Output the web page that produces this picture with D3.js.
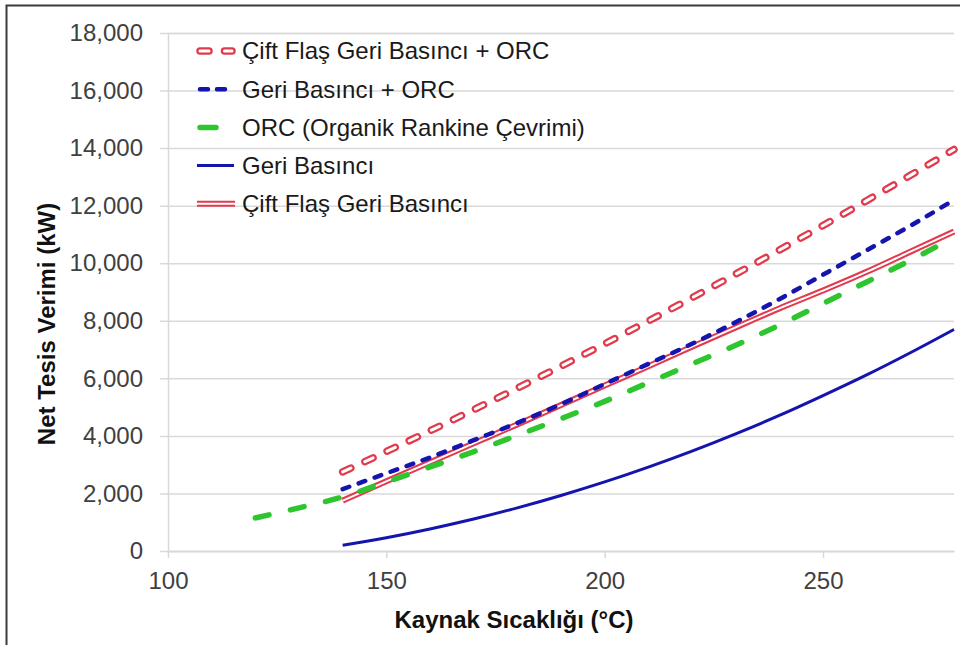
<!DOCTYPE html>
<html lang="tr">
<head>
<meta charset="utf-8">
<title>Net Tesis Verimi</title>
<script src="https://cdn.jsdelivr.net/npm/d3@7"></script>
<style>
  html, body { margin: 0; padding: 0; background: #fff; }
  #chart { width: 960px; height: 645px; }
  text { font-family: "Liberation Sans", Arial, sans-serif; }
</style>
</head>
<body>
<div id="chart"></div>
<script>
// Source temperatures (°C)
const temps = [140, 150, 160, 170, 180, 190, 200, 210, 220, 230, 240, 250, 260, 270, 280];
const orcTemps = [120, 130, 140, 150, 160, 170, 180, 190, 200, 210, 220, 230, 240, 250, 260, 270, 280];

// Net plant output (kW)
const ciftFlasOrc = [2750, 3455, 4175, 4909, 5658, 6422, 7200, 7992, 8800, 9622, 10458, 11309, 12174, 13054, 13950];
const geriBasinciOrc = [2150, 2700, 3250, 3850, 4450, 5100, 5800, 6500, 7200, 7950, 8750, 9600, 10450, 11300, 12200];
const orc = [1150, 1500, 1880, 2400, 2920, 3450, 4020, 4600, 5200, 5850, 6500, 7150, 7850, 8600, 9350, 10100, 10900];
const geriBasinci = [200, 460, 765, 1110, 1500, 1930, 2400, 2915, 3470, 4070, 4710, 5400, 6120, 6890, 7700];
const ciftFlas = [1750, 2420, 3080, 3740, 4400, 5070, 5750, 6420, 7100, 7770, 8430, 9050, 9700, 10400, 11100];

const xTicks = [100, 150, 200, 250];
const yTicks = [0, 2000, 4000, 6000, 8000, 10000, 12000, 14000, 16000, 18000];

const legendLabels = [
  "Çift Flaş Geri Basıncı + ORC",
  "Geri Basıncı + ORC",
  "ORC (Organik Rankine Çevrimi)",
  "Geri Basıncı",
  "Çift Flaş Geri Basıncı"
];

const RED = "#e23a4c";
const BLUE = "#1414ae";
const GREEN = "#2fc52f";

const width = 960;
const height = 645;
const plot = { left: 168, right: 954, top: 33, bottom: 551 };

const svg = d3.select("#chart")
  .append("svg")
  .attr("width", width)
  .attr("height", height);

// Outer frame (only left and top edges are visible in the crop)
svg.append("path")
  .attr("d", `M6.5,${height} L6.5,5.5 L${width},5.5`)
  .attr("fill", "none")
  .attr("stroke", "#3a3a3a")
  .attr("stroke-width", 2);

const x = d3.scaleLinear().domain([100, 280]).range([plot.left, plot.right]);
const y = d3.scaleLinear().domain([0, 18000]).range([plot.bottom, plot.top]);

// Horizontal gridlines + y tick labels
const yAxis = svg.append("g")
  .attr("transform", `translate(${plot.left},0)`)
  .call(
    d3.axisLeft(y)
      .tickValues(yTicks)
      .tickSize(-(plot.right - plot.left))
      .tickPadding(25)
      .tickFormat(d3.format(","))
  );
yAxis.select(".domain").attr("stroke", "#d9d9d9").attr("stroke-width", 1.5);
yAxis.selectAll(".tick line")
  .attr("x1", -8)
  .attr("stroke", "#d9d9d9")
  .attr("stroke-width", 1.5);
yAxis.selectAll("text")
  .attr("fill", "#404040")
  .style("font-size", "24px");

// x axis along the bottom
const xAxis = svg.append("g")
  .attr("transform", `translate(0,${plot.bottom})`)
  .call(
    d3.axisBottom(x)
      .tickValues(xTicks)
      .tickSize(7)
      .tickPadding(14)
      .tickSizeOuter(0)
  );
xAxis.select(".domain").attr("stroke", "#d9d9d9").attr("stroke-width", 1.5);
xAxis.selectAll(".tick line").attr("stroke", "#d9d9d9").attr("stroke-width", 1.5);
xAxis.selectAll("text")
  .attr("fill", "#404040")
  .style("font-size", "24px");

// Axis titles
svg.append("text")
  .attr("x", 514)
  .attr("y", 628)
  .attr("text-anchor", "middle")
  .style("font-size", "24px")
  .style("font-weight", "bold")
  .attr("fill", "#111")
  .text("Kaynak Sıcaklığı (°C)");

svg.append("text")
  .attr("transform", "translate(55,324) rotate(-90)")
  .attr("text-anchor", "middle")
  .style("font-size", "24px")
  .style("font-weight", "bold")
  .attr("fill", "#111")
  .text("Net Tesis Verimi (kW)");

const line = d3.line()
  .x((d) => x(d[0]))
  .y((d) => y(d[1]))
  .curve(d3.curveMonotoneX);

const zip = (xs, ys) => xs.map((t, i) => [t, ys[i]]);

// Series styles: double lines get a red stroke with a thin white core
const series = [
  { data: zip(temps, ciftFlas), color: RED, width: 6, dash: null, core: 2 },
  { data: zip(temps, geriBasinci), color: BLUE, width: 3, dash: null },
  { data: zip(orcTemps, orc), color: GREEN, width: 5.5, dash: "14,22" },
  { data: zip(temps, geriBasinciOrc), color: BLUE, width: 4.5, dash: "7,10" },
  { data: zip(temps, ciftFlasOrc), color: RED, width: 7.5, dash: "9,15.5", core: 3 }
];

const lines = svg.append("g").attr("class", "series");

series.forEach((s) => {
  lines.append("path")
    .datum(s.data)
    .attr("d", line)
    .attr("fill", "none")
    .attr("stroke", s.color)
    .attr("stroke-width", s.width)
    .attr("stroke-linecap", s.dash ? "round" : "butt")
    .attr("stroke-dasharray", s.dash);
  if (s.core) {
    lines.append("path")
      .datum(s.data)
      .attr("d", line)
      .attr("fill", "none")
      .attr("stroke", "#fff")
      .attr("stroke-width", s.core)
      .attr("stroke-linecap", s.dash ? "round" : "butt")
      .attr("stroke-dasharray", s.dash);
  }
});

// Legend
const legendItems = [
  { label: legendLabels[0], color: RED, width: 7.5, dash: "9,15.5", core: 3, x2: 232 },
  { label: legendLabels[1], color: BLUE, width: 4.5, dash: "8,9", x2: 226 },
  { label: legendLabels[2], color: GREEN, width: 5.5, dash: "16,30", x2: 219 },
  { label: legendLabels[3], color: BLUE, width: 3, dash: null, x2: 234 },
  { label: legendLabels[4], color: RED, width: 6, dash: null, core: 2, x2: 235 }
];

const legend = svg.append("g").attr("class", "legend");

legend.selectAll(".legend-item")
  .data(legendItems)
  .enter()
  .append("g")
  .attr("class", "legend-item")
  .attr("transform", (d, i) => `translate(0, ${51 + i * 38.2})`)
  .each(function (d) {
    const item = d3.select(this);
    const x1 = d.dash ? 200 : 197;
    item.append("line")
      .attr("x1", x1)
      .attr("x2", d.x2)
      .attr("stroke", d.color)
      .attr("stroke-width", d.width)
      .attr("stroke-linecap", d.dash ? "round" : "butt")
      .attr("stroke-dasharray", d.dash);
    if (d.core) {
      item.append("line")
        .attr("x1", x1)
        .attr("x2", d.x2)
        .attr("stroke", "#fff")
        .attr("stroke-width", d.core)
        .attr("stroke-linecap", d.dash ? "round" : "butt")
        .attr("stroke-dasharray", d.dash);
    }
    item.append("text")
      .attr("x", 242)
      .attr("y", 0)
      .attr("dy", "0.35em")
      .style("font-size", "24px")
      .attr("fill", "#1a1a1a")
      .text(d.label);
  });
</script>
</body>
</html>
